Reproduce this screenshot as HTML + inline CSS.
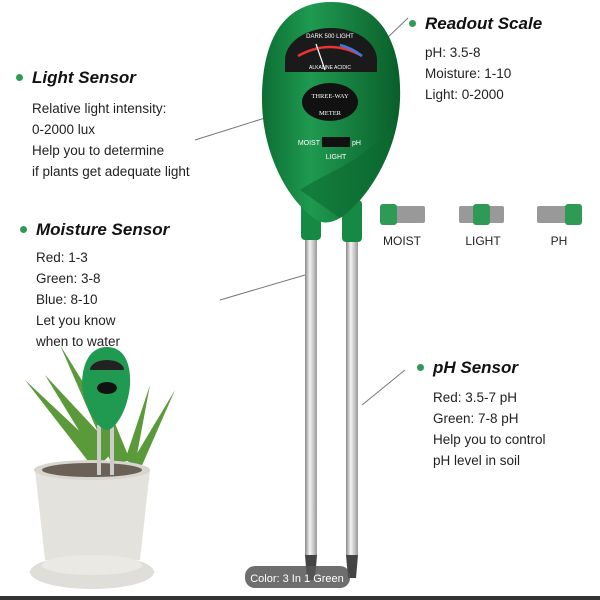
<!DOCTYPE html>
<html><head><meta charset="utf-8"><style>
html,body{margin:0;padding:0;background:#fff}
body{width:600px;height:600px;overflow:hidden;position:relative;font-family:"Liberation Sans",sans-serif}
.t{position:absolute;color:#222;font-size:13.5px;line-height:21px}
.h{position:absolute;font-weight:bold;font-style:italic;font-size:17px;color:#111}
.h:before{content:"";position:absolute;left:-16px;top:6px;width:7px;height:7px;border-radius:50%;background:#2e9a55}
</style></head><body>
<svg width="600" height="600" style="position:absolute;left:0;top:0">
<defs>
<linearGradient id="g" x1="0" x2="1"><stop offset="0" stop-color="#0c6e34"/><stop offset=".35" stop-color="#1f9a50"/><stop offset="1" stop-color="#0a5e2a"/></linearGradient>
<linearGradient id="m" x1="0" x2="1"><stop offset="0" stop-color="#888"/><stop offset=".4" stop-color="#f4f4f4"/><stop offset="1" stop-color="#999"/></linearGradient>
</defs>
<line x1="195" y1="140" x2="265" y2="118" stroke="#777" stroke-width="1"/>
<line x1="385" y1="40" x2="408" y2="18" stroke="#777" stroke-width="1"/>
<line x1="220" y1="300" x2="305" y2="275" stroke="#777" stroke-width="1"/>
<line x1="362" y1="405" x2="405" y2="370" stroke="#777" stroke-width="1"/>
<rect x="305" y="225" width="12" height="330" fill="url(#m)"/>
<rect x="346" y="235" width="12" height="320" fill="url(#m)"/>
<path d="M305 555 L317 555 L315 580 L307 580Z" fill="#444"/>
<path d="M346 555 L358 555 L356 578 L348 578Z" fill="#444"/>
<rect x="301" y="195" width="20" height="45" rx="4" fill="#168a44"/>
<rect x="342" y="200" width="20" height="42" rx="4" fill="#168a44"/>
<path d="M331 2 C385 2 402 50 400 100 C398 150 370 195 345 215 C330 225 320 225 310 215 C285 195 262 150 262 100 C262 45 280 2 331 2Z" fill="url(#g)"/>
<path d="M300 190 C330 170 370 160 395 120 C385 170 360 205 340 218 Z" fill="#0b6a30" opacity=".6"/>
<path d="M285 72 L285 60 A46 32 0 0 1 377 60 L377 72Z" fill="#1a1a1a"/>
<text x="330" y="38" font-size="6" fill="#fff" text-anchor="middle">DARK  500  LIGHT</text>
<path d="M298 56 Q330 38 362 56" stroke="#e33" stroke-width="2.5" fill="none"/>
<path d="M340 45 Q352 48 362 56" stroke="#3a7be0" stroke-width="2.5" fill="none"/>
<text x="330" y="69" font-size="5" fill="#fff" text-anchor="middle">ALKALINE      ACIDIC</text>
<line x1="316" y1="44" x2="325" y2="70" stroke="#fff" stroke-width="1.2"/>
<ellipse cx="330" cy="102" rx="28" ry="19" fill="#111"/>
<text x="330" y="98" font-size="6.5" fill="#fff" text-anchor="middle" font-family="Liberation Serif">THREE-WAY</text>
<text x="330" y="115" font-size="6.5" fill="#fff" text-anchor="middle" font-family="Liberation Serif">METER</text>
<rect x="322" y="137" width="28" height="10" fill="#111"/>
<text x="320" y="145" font-size="7" fill="#fff" text-anchor="end">MOIST</text>
<text x="352" y="145" font-size="7" fill="#fff">pH</text>
<text x="336" y="159" font-size="7" fill="#fff" text-anchor="middle">LIGHT</text>
<rect x="380" y="206" width="45" height="17" rx="2" fill="#999"/><rect x="380" y="204" width="17" height="21" rx="3" fill="#2e9a55"/>
<rect x="459" y="206" width="45" height="17" rx="2" fill="#999"/><rect x="473" y="204" width="17" height="21" rx="3" fill="#2e9a55"/>
<rect x="537" y="206" width="45" height="17" rx="2" fill="#999"/><rect x="565" y="204" width="17" height="21" rx="3" fill="#2e9a55"/>
<text x="402" y="245" font-size="12" fill="#222" text-anchor="middle">MOIST</text>
<text x="483" y="245" font-size="12" fill="#222" text-anchor="middle">LIGHT</text>
<text x="559" y="245" font-size="12" fill="#222" text-anchor="middle">PH</text>
<g fill="#5a9a3a">
<path d="M95 470 L25 380 L105 455Z"/><path d="M100 465 L45 375 L115 450Z"/><path d="M110 460 L60 345 L125 450Z"/>
<path d="M125 460 L150 385 L135 465Z"/><path d="M130 465 L175 390 L140 470Z"/><path d="M115 465 L95 375 L130 460Z"/>
</g>
<path d="M35 470 L150 470 L140 560 L45 560Z" fill="#e4e2dd"/>
<ellipse cx="92" cy="470" rx="58" ry="10" fill="#d8d5cf"/>
<ellipse cx="92" cy="470" rx="50" ry="7" fill="#6a6055"/>
<ellipse cx="92" cy="572" rx="62" ry="17" fill="#e0ded9"/>
<ellipse cx="92" cy="565" rx="50" ry="10" fill="#ebe9e4"/>
<rect x="97" y="425" width="4" height="50" fill="#ccc"/><rect x="110" y="425" width="4" height="50" fill="#ccc"/>
<path d="M107 347 C125 347 131 365 130 385 C128 410 115 430 107 430 C99 430 84 410 82 385 C82 365 89 347 107 347Z" fill="#1f9a50"/>
<path d="M90 370 A17 10 0 0 1 124 370Z" fill="#222"/>
<ellipse cx="107" cy="388" rx="10" ry="6" fill="#111"/>
<rect x="0" y="596" width="600" height="4" fill="#333"/>
<rect x="245" y="566" width="105" height="22" rx="10" fill="#555" opacity=".85"/>
<text x="297" y="582" font-size="11" fill="#fff" text-anchor="middle">Color: 3 In 1 Green</text>
</svg>
<div class="h" style="left:32px;top:68px">Light Sensor</div>
<div class="t" style="left:32px;top:98px">Relative light intensity:<br>0-2000 lux<br>Help you to determine<br>if plants get adequate light</div>
<div class="h" style="left:36px;top:220px">Moisture Sensor</div>
<div class="t" style="left:36px;top:247px">Red: 1-3<br>Green: 3-8<br>Blue: 8-10<br>Let you know<br>when to water</div>
<div class="h" style="left:425px;top:14px">Readout Scale</div>
<div class="t" style="left:425px;top:42px">pH: 3.5-8<br>Moisture: 1-10<br>Light: 0-2000</div>
<div class="h" style="left:433px;top:358px">pH Sensor</div>
<div class="t" style="left:433px;top:387px">Red: 3.5-7 pH<br>Green: 7-8 pH<br>Help you to control<br>pH level in soil</div>
</body></html>
